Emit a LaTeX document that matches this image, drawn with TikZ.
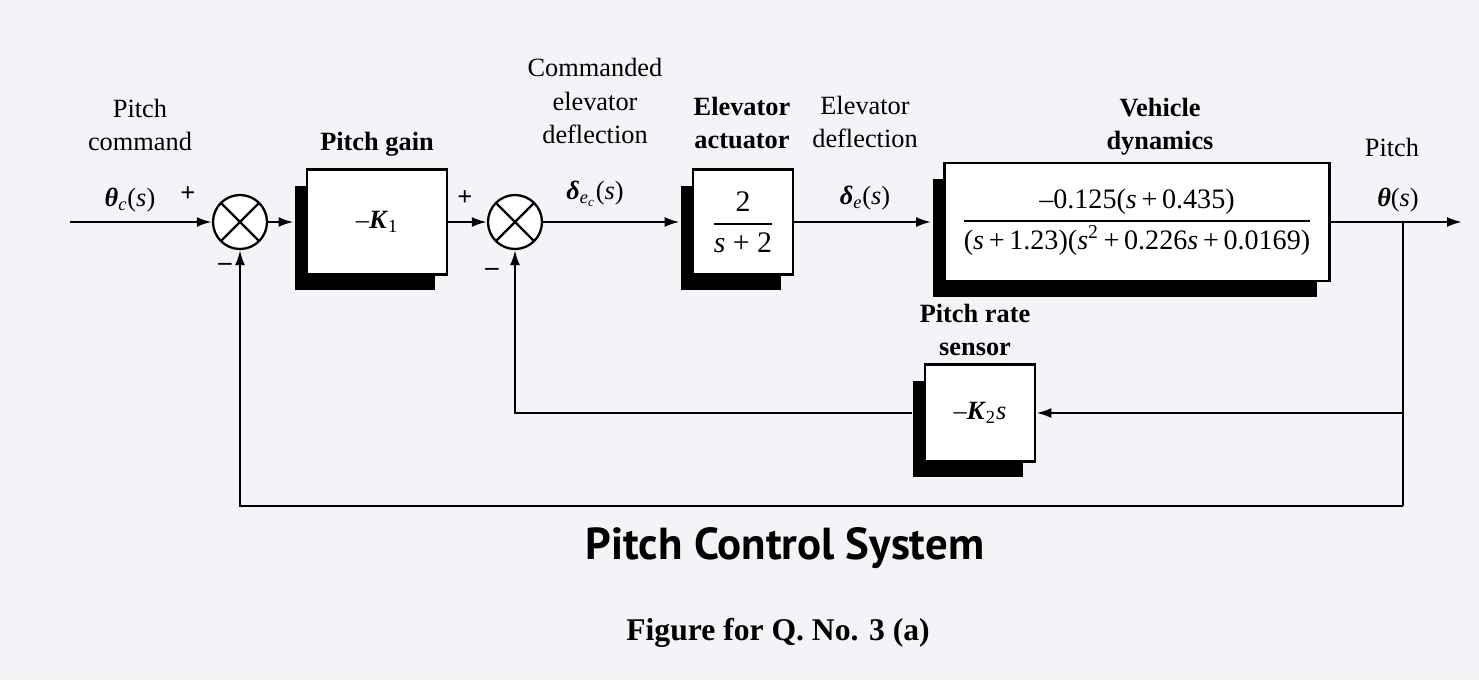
\documentclass[tikz,border=0pt]{standalone}
\usepackage{amsmath}
\usepackage{fontspec}
\setmainfont{Liberation Serif}
\newfontfamily\titlefont{PT Sans}
\usepackage{tikz}
\usetikzlibrary{arrows.meta,calc,positioning,shadows}
\definecolor{PaperGray}{RGB}{243,244,247}
\newcommand{\vi}[1]{\text{\textit{#1}}}
\newcommand{\gk}[1]{\text{\bfseries\itshape #1}}

\begin{document}
\begin{tikzpicture}[x=0.02cm, y=-0.02cm, line width=1.3pt,
  font=\fontsize{15}{18.8}\selectfont,
  blk/.style={draw, line width=1.6pt, fill=white, inner sep=0pt,
    general shadow={fill=black, shadow xshift=-0.24cm, shadow yshift=-0.32cm}},
  sumjn/.style={draw, circle, minimum size=1.08cm, inner sep=0pt, fill=white,
    path picture={\draw[line width=1.3pt]
      (path picture bounding box.north west) -- (path picture bounding box.south east)
      (path picture bounding box.north east) -- (path picture bounding box.south west);}},
  sig/.style={-{Latex[length=0.3cm,width=0.2cm]}},
  lbl/.style={align=center, inner sep=0pt}]

  % Page
  \fill[PaperGray] (0,0) rectangle (1479,680);

  % Forward path
  \coordinate (in) at (70,222);
  \node[sumjn] (sumA) at (240,222) {};
  \node[blk, minimum width=2.8cm, minimum height=2.1cm] (gain) at (377,222)
    {–\textit{\textbf{K}}\textsubscript{1}};
  \node[sumjn] (sumB) at (515,222) {};
  \node[blk, minimum width=2cm, minimum height=2.1cm, font=\fontsize{17}{20}\selectfont] (act) at (743,222)
    {$\dfrac{\text{2}}{\text{\textit{s} + 2}}$};
  \node[blk, minimum width=7.7cm, minimum height=2.36cm, font=\fontsize{16}{19}\selectfont] (veh) at (1137,222)
    {$\dfrac{\text{–0.125(\textit{s}\,+\,0.435)}}{\text{(\textit{s}\,+\,1.23)(\textit{s}\textsuperscript{2}\,+\,0.226\textit{s}\,+\,0.0169)}}$};
  \coordinate (tap) at (1403,222);
  \coordinate (out) at (1462,222);

  % Feedback path
  \node[blk, minimum width=2.2cm, minimum height=1.94cm] (rate) at (980,413)
    {–\textit{\textbf{K}}\textsubscript{2}\textit{s}};
  \coordinate (tapB) at (1403,506);

  % Connectors
  \draw[sig] (in) -- (sumA);
  \draw[sig] (sumA) -- ([xshift=-0.24cm]gain.west);
  \draw[sig] (gain) -- (sumB);
  \draw[sig] (sumB) -- ([xshift=-0.24cm]act.west);
  \draw[sig] (act) -- ([xshift=-0.24cm]veh.west);
  \draw[sig] (veh) -- (out);
  \draw (tap) -- (tapB);
  \draw[sig] (tap |- rate.east) -- (rate.east);
  \draw[sig] ([xshift=-0.24cm]rate.west) -- (sumB |- rate) -- (sumB);
  \draw[sig] (tapB) -- (sumA |- tapB) -- (sumA);

  % Signs
  \node (pA) at (188,194) {\textbf{+}};
  \node (mA) at (225,267) {\textbf{--}};
  \node (pB) at (465,198) {\textbf{+}};
  \node (mB) at (492,272) {\textbf{--}};

  % Labels
  \node[lbl] (lCmd) at (140,125) {Pitch\\command};
  \node[lbl] (lThc) at (130,200) {$\gk{θ}_{\vi{c}}\text{(\textit{s})}$};
  \node[lbl, font=\fontsize{15}{18.8}\selectfont\bfseries] (lGain) at (377,144) {Pitch gain};
  \node[lbl] (lDec) at (595,101) {Commanded\\elevator\\deflection};
  \node[lbl] (lDecS) at (595,194) {$\gk{δ}_{\vi{e}_{\vi{c}}}\text{(\textit{s})}$};
  \node[lbl, font=\fontsize{15}{18.8}\selectfont\bfseries] (lAct) at (742,123) {Elevator\\actuator};
  \node[lbl] (lDe) at (865,122) {Elevator\\deflection};
  \node[lbl] (lDeS) at (865,198) {$\gk{δ}_{\vi{e}}\text{(\textit{s})}$};
  \node[lbl, font=\fontsize{15}{18.8}\selectfont\bfseries] (lVeh) at (1160,127) {Vehicle\\dynamics};
  \node[lbl] (lPitch) at (1392,147) {Pitch};
  \node[lbl] (lTh) at (1398,200) {$\gk{θ}\text{(\textit{s})}$};
  \node[lbl, font=\fontsize{15}{18.8}\selectfont\bfseries] (lRate) at (975,330) {Pitch rate\\sensor};

  % Captions
  \node (title) at (785,548) {\titlefont\bfseries\fontsize{25.5}{30}\selectfont Pitch Control System};
  \node (fig) at (778,633) {\bfseries\fontsize{18}{22}\selectfont Figure for Q. No. 3 (a)};
\end{tikzpicture}
\end{document}
